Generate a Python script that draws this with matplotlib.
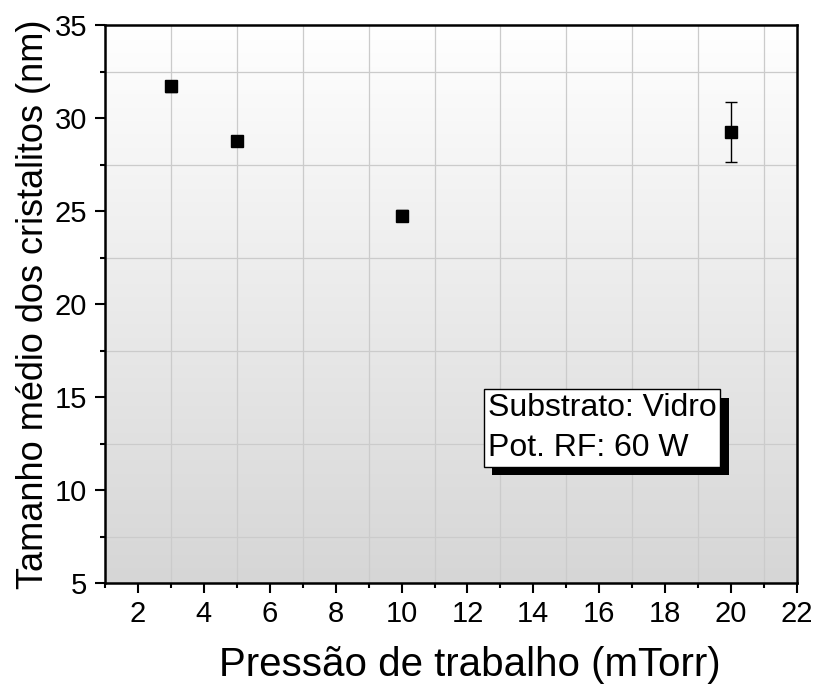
import numpy as np
import matplotlib
matplotlib.use("Agg")
import matplotlib.pyplot as plt
import matplotlib.patheffects as pe
from matplotlib.ticker import MultipleLocator

plt.rcParams['font.family'] = ['Liberation Sans', 'DejaVu Sans']

# data
pressao = [3, 5, 10, 20]
tamanho = [31.7, 28.78, 24.75, 29.26]
erro = [0.3, 0.15, 0.3, 1.6]

fig = plt.figure(figsize=(8.17, 6.88), dpi=100)
ax = fig.add_axes([0.1285, 0.1526, 0.847, 0.811])

ax.set_xlim(1, 22)
ax.set_ylim(5, 35)

# gradient background (white at top -> light gray at bottom)
grad = np.linspace(0, 1, 256).reshape(-1, 1)
ax.imshow(grad, extent=[1, 22, 5, 35], aspect='auto', origin='upper',
          cmap=matplotlib.colors.LinearSegmentedColormap.from_list(
              'bg', ['#ffffff', '#d6d6d6']), zorder=0)

ax.xaxis.set_major_locator(MultipleLocator(2))
ax.xaxis.set_minor_locator(MultipleLocator(1))
ax.yaxis.set_major_locator(MultipleLocator(5))
ax.yaxis.set_minor_locator(MultipleLocator(2.5))
ax.grid(which='minor', color='#cbcbcb', lw=0.9, zorder=1)
ax.grid(which='major', visible=False)

ax.errorbar(pressao, tamanho, yerr=erro, fmt='s', color='black', ms=9,
            ecolor='black', elinewidth=1, capsize=4, capthick=1, zorder=5)

ax.tick_params(which='major', direction='out', length=7, width=1.5,
               labelsize=21)
ax.tick_params(which='minor', direction='out', length=3.6, width=1.5)
ax.tick_params(axis='y', which='major', pad=6)
ax.tick_params(axis='x', which='major', pad=5)
for sp in ax.spines.values():
    sp.set_linewidth(1.8)

ax.set_xlabel('Pressão de trabalho (mTorr)', fontsize=29)
ax.xaxis.set_label_coords(0.527, -0.112, transform=ax.transAxes)
ax.xaxis.label.set_va('top')
ax.set_ylabel('Tamanho médio dos cristalitos (nm)', fontsize=26)
ax.yaxis.set_label_coords(-0.078, 0.5, transform=ax.transAxes)

t = ax.text(0.553, 0.34, 'Substrato: Vidro\nPot. RF: 60 W', transform=ax.transAxes,
            fontsize=23, ha='left', va='top', linespacing=1.42, zorder=6,
            bbox=dict(boxstyle='square,pad=0.12', fc='white', ec='black', lw=1))
t.get_bbox_patch().set_path_effects([
    pe.SimplePatchShadow(offset=(6, -6), shadow_rgbFace='black', alpha=1.0),
    pe.Normal()])

fig.savefig('out.png', dpi=100)
